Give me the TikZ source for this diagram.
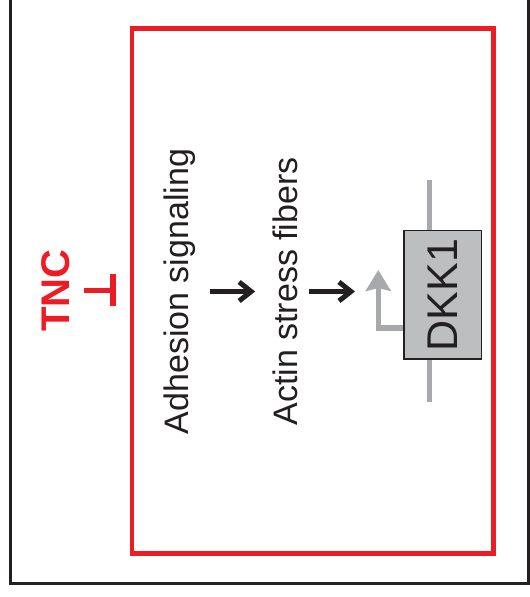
\documentclass[tikz,border=0pt]{standalone}
\usepackage{fontspec}
\setmainfont{Liberation Sans}
\usetikzlibrary{arrows.meta, positioning}
\definecolor{cellred}{HTML}{ED1C24}
\definecolor{frameink}{HTML}{231F20}
\definecolor{geneline}{HTML}{A7A9AC}
\definecolor{genefill}{HTML}{BCBEC0}
\tikzset{
  lbl/.style={rotate=90, anchor=base, inner sep=0pt, font=\fontsize{34}{40}\selectfont, text=frameink},
  tnclbl/.style={rotate=90, anchor=base, inner sep=0pt, font=\fontsize{40}{48}\selectfont\bfseries, text=cellred},
  genebox/.style={draw=frameink, fill=genefill, rotate=90, minimum width=128.5pt, minimum height=77.5pt,
    inner sep=0pt, line width=1.5pt, font=\fontsize{43}{50}\selectfont, text=frameink},
  cellbox/.style={draw=cellred, line width=4.5pt, minimum width=361.5pt, minimum height=525pt, inner sep=0pt},
  flow/.style={-{Straight Barb[length=12pt, width=19pt]}, draw=frameink, line width=5pt},
  promo/.style={-{Stealth[length=21pt, width=25pt, inset=3pt]}, draw=geneline, line width=5.5pt},
  inhib/.style={-{Bar[width=32pt]}, draw=cellred, line width=5.5pt},
  gene/.style={draw=geneline, line width=5pt}
}
\begin{document}
\begin{tikzpicture}[x=1pt, y=1pt]
\useasboundingbox (0,0) rectangle (530,597);
% outer frame, open at the top
\draw[frameink, line width=3pt] (10.5,620) |- (528,13.5) -- (528,620);
\node[cellbox] (cell) at (312.75,306) {};
\node[tnclbl] (tnc) at (69,306.5) {TNC};
\node[lbl] (adh) at (188,305.5) {Adhesion signaling};
\node[lbl] (actin) at (297,305.5) {Actin stress fibers};
% gene with promoter
\coordinate (gtop) at (429.5,417);
\coordinate (gbot) at (429.5,195);
\coordinate (tss) at (379,305);
\draw[gene] (gtop) -- (gbot);
\node[genebox] (dkk) at (442.5,302) {DKK1};
\draw[promo] ([yshift=-33pt]dkk.north) -| ++(-24.75,58);
\draw[inhib, shorten <=14pt, shorten >=14pt] (tnc.south) -- (tnc.south -| cell.west);
\draw[flow, shorten <=15pt, shorten >=17pt] (adh.south) -- (actin.north);
\draw[flow, shorten <=11pt, shorten >=24pt] (actin.south) -- (actin.south -| tss);
\end{tikzpicture}
\end{document}
